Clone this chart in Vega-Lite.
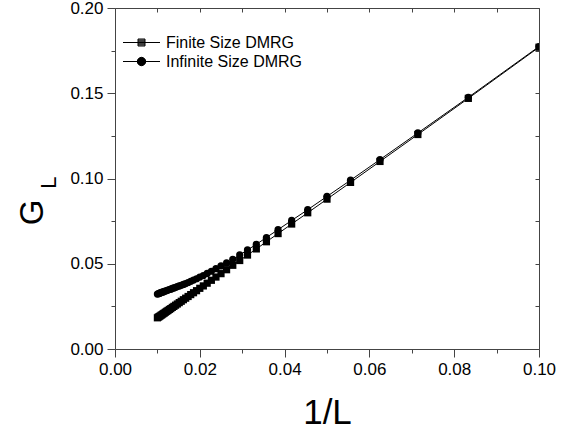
{
"$schema":"https://vega.github.io/schema/vega-lite/v6.json",
"width":424,"height":341,
"autosize":{"type":"none"},
"padding":{"left":115,"top":8,"right":36,"bottom":84},
"background":"white",
"config":{"view":{"stroke":null},"font":"Liberation Sans"},
"data":{"values":[
{"L":10,"invL":0.1,"series":"Finite Size DMRG","G":0.1770},
{"L":12,"invL":0.083333,"series":"Finite Size DMRG","G":0.1470},
{"L":14,"invL":0.071429,"series":"Finite Size DMRG","G":0.1258},
{"L":16,"invL":0.0625,"series":"Finite Size DMRG","G":0.1100},
{"L":18,"invL":0.055556,"series":"Finite Size DMRG","G":0.0977},
{"L":20,"invL":0.05,"series":"Finite Size DMRG","G":0.0879},
{"L":22,"invL":0.045455,"series":"Finite Size DMRG","G":0.0799},
{"L":24,"invL":0.041667,"series":"Finite Size DMRG","G":0.0733},
{"L":26,"invL":0.038462,"series":"Finite Size DMRG","G":0.0677},
{"L":28,"invL":0.035714,"series":"Finite Size DMRG","G":0.0629},
{"L":30,"invL":0.033333,"series":"Finite Size DMRG","G":0.0587},
{"L":32,"invL":0.03125,"series":"Finite Size DMRG","G":0.0551},
{"L":34,"invL":0.029412,"series":"Finite Size DMRG","G":0.0519},
{"L":36,"invL":0.027778,"series":"Finite Size DMRG","G":0.0491},
{"L":38,"invL":0.026316,"series":"Finite Size DMRG","G":0.0465},
{"L":40,"invL":0.025,"series":"Finite Size DMRG","G":0.0442},
{"L":42,"invL":0.02381,"series":"Finite Size DMRG","G":0.0422},
{"L":44,"invL":0.022727,"series":"Finite Size DMRG","G":0.0403},
{"L":46,"invL":0.021739,"series":"Finite Size DMRG","G":0.0386},
{"L":48,"invL":0.020833,"series":"Finite Size DMRG","G":0.0370},
{"L":50,"invL":0.02,"series":"Finite Size DMRG","G":0.0356},
{"L":52,"invL":0.019231,"series":"Finite Size DMRG","G":0.0342},
{"L":54,"invL":0.018519,"series":"Finite Size DMRG","G":0.0330},
{"L":56,"invL":0.017857,"series":"Finite Size DMRG","G":0.0319},
{"L":58,"invL":0.017241,"series":"Finite Size DMRG","G":0.0308},
{"L":60,"invL":0.016667,"series":"Finite Size DMRG","G":0.0298},
{"L":62,"invL":0.016129,"series":"Finite Size DMRG","G":0.0289},
{"L":64,"invL":0.015625,"series":"Finite Size DMRG","G":0.0280},
{"L":66,"invL":0.015152,"series":"Finite Size DMRG","G":0.0272},
{"L":68,"invL":0.014706,"series":"Finite Size DMRG","G":0.0264},
{"L":70,"invL":0.014286,"series":"Finite Size DMRG","G":0.0257},
{"L":72,"invL":0.013889,"series":"Finite Size DMRG","G":0.0250},
{"L":74,"invL":0.013514,"series":"Finite Size DMRG","G":0.0244},
{"L":76,"invL":0.013158,"series":"Finite Size DMRG","G":0.0237},
{"L":78,"invL":0.012821,"series":"Finite Size DMRG","G":0.0232},
{"L":80,"invL":0.0125,"series":"Finite Size DMRG","G":0.0226},
{"L":82,"invL":0.012195,"series":"Finite Size DMRG","G":0.0221},
{"L":84,"invL":0.011905,"series":"Finite Size DMRG","G":0.0216},
{"L":86,"invL":0.011628,"series":"Finite Size DMRG","G":0.0211},
{"L":88,"invL":0.011364,"series":"Finite Size DMRG","G":0.0207},
{"L":90,"invL":0.011111,"series":"Finite Size DMRG","G":0.0202},
{"L":92,"invL":0.01087,"series":"Finite Size DMRG","G":0.0198},
{"L":94,"invL":0.010638,"series":"Finite Size DMRG","G":0.0194},
{"L":96,"invL":0.010417,"series":"Finite Size DMRG","G":0.0190},
{"L":98,"invL":0.010204,"series":"Finite Size DMRG","G":0.0187},
{"L":100,"invL":0.01,"series":"Finite Size DMRG","G":0.0183},
{"L":10,"invL":0.1,"series":"Infinite Size DMRG","G":0.1774},
{"L":12,"invL":0.083333,"series":"Infinite Size DMRG","G":0.1476},
{"L":14,"invL":0.071429,"series":"Infinite Size DMRG","G":0.1267},
{"L":16,"invL":0.0625,"series":"Infinite Size DMRG","G":0.1111},
{"L":18,"invL":0.055556,"series":"Infinite Size DMRG","G":0.0990},
{"L":20,"invL":0.05,"series":"Infinite Size DMRG","G":0.0895},
{"L":22,"invL":0.045455,"series":"Infinite Size DMRG","G":0.0817},
{"L":24,"invL":0.041667,"series":"Infinite Size DMRG","G":0.0754},
{"L":26,"invL":0.038462,"series":"Infinite Size DMRG","G":0.0700},
{"L":28,"invL":0.035714,"series":"Infinite Size DMRG","G":0.0654},
{"L":30,"invL":0.033333,"series":"Infinite Size DMRG","G":0.0614},
{"L":32,"invL":0.03125,"series":"Infinite Size DMRG","G":0.0581},
{"L":34,"invL":0.029412,"series":"Infinite Size DMRG","G":0.0552},
{"L":36,"invL":0.027778,"series":"Infinite Size DMRG","G":0.0526},
{"L":38,"invL":0.026316,"series":"Infinite Size DMRG","G":0.0505},
{"L":40,"invL":0.025,"series":"Infinite Size DMRG","G":0.0487},
{"L":42,"invL":0.02381,"series":"Infinite Size DMRG","G":0.0471},
{"L":44,"invL":0.022727,"series":"Infinite Size DMRG","G":0.0456},
{"L":46,"invL":0.021739,"series":"Infinite Size DMRG","G":0.0443},
{"L":48,"invL":0.020833,"series":"Infinite Size DMRG","G":0.0431},
{"L":50,"invL":0.02,"series":"Infinite Size DMRG","G":0.0422},
{"L":52,"invL":0.019231,"series":"Infinite Size DMRG","G":0.0412},
{"L":54,"invL":0.018519,"series":"Infinite Size DMRG","G":0.0404},
{"L":56,"invL":0.017857,"series":"Infinite Size DMRG","G":0.0397},
{"L":58,"invL":0.017241,"series":"Infinite Size DMRG","G":0.0390},
{"L":60,"invL":0.016667,"series":"Infinite Size DMRG","G":0.0384},
{"L":62,"invL":0.016129,"series":"Infinite Size DMRG","G":0.0379},
{"L":64,"invL":0.015625,"series":"Infinite Size DMRG","G":0.0374},
{"L":66,"invL":0.015152,"series":"Infinite Size DMRG","G":0.0370},
{"L":68,"invL":0.014706,"series":"Infinite Size DMRG","G":0.0366},
{"L":70,"invL":0.014286,"series":"Infinite Size DMRG","G":0.0362},
{"L":72,"invL":0.013889,"series":"Infinite Size DMRG","G":0.0358},
{"L":74,"invL":0.013514,"series":"Infinite Size DMRG","G":0.0355},
{"L":76,"invL":0.013158,"series":"Infinite Size DMRG","G":0.0351},
{"L":78,"invL":0.012821,"series":"Infinite Size DMRG","G":0.0349},
{"L":80,"invL":0.0125,"series":"Infinite Size DMRG","G":0.0346},
{"L":82,"invL":0.012195,"series":"Infinite Size DMRG","G":0.0343},
{"L":84,"invL":0.011905,"series":"Infinite Size DMRG","G":0.0340},
{"L":86,"invL":0.011628,"series":"Infinite Size DMRG","G":0.0338},
{"L":88,"invL":0.011364,"series":"Infinite Size DMRG","G":0.0335},
{"L":90,"invL":0.011111,"series":"Infinite Size DMRG","G":0.0333},
{"L":92,"invL":0.01087,"series":"Infinite Size DMRG","G":0.0331},
{"L":94,"invL":0.010638,"series":"Infinite Size DMRG","G":0.0329},
{"L":96,"invL":0.010417,"series":"Infinite Size DMRG","G":0.0326},
{"L":98,"invL":0.010204,"series":"Infinite Size DMRG","G":0.0324},
{"L":100,"invL":0.01,"series":"Infinite Size DMRG","G":0.0322}
]},
"layer":[
{"mark":{"type":"line","color":"black","strokeWidth":1,"clip":true},
 "encoding":{
  "x":{"field":"invL","type":"quantitative","scale":{"domain":[0,0.1],"nice":false,"zero":false},
   "axis":{"orient":"bottom","values":[0,0.01,0.02,0.03,0.04,0.05,0.06,0.07,0.08,0.09,0.1],
    "labelExpr":"round(datum.value*100)%2==0 ? format(datum.value,'.2f') : ''",
    "tickSize":{"condition":{"test":"round(datum.value*100)%2==0","value":8},"value":4},
    "grid":false,"domainColor":"#444","tickColor":"#444","labelFont":"Liberation Sans","labelFontSize":17,"labelColor":"black","labelPadding":4,"labelFlush":false,"labelOverlap":false,
    "title":"1/L","titleFont":"Liberation Sans","titleFontSize":35,"titleFontWeight":"normal","titleColor":"black","titleX":212,"titleY":74,"titleAlign":"center","titleBaseline":"alphabetic"}},
  "y":{"field":"G","type":"quantitative","scale":{"domain":[0,0.2],"nice":false,"zero":false},
   "axis":{"orient":"left","values":[0,0.025,0.05,0.075,0.1,0.125,0.15,0.175,0.2],
    "labelExpr":"round(datum.value*40)%2==0 ? format(datum.value,'.2f') : ''",
    "tickSize":{"condition":{"test":"round(datum.value*40)%2==0","value":8},"value":4},
    "grid":false,"domainColor":"#444","tickColor":"#444","labelFont":"Liberation Sans","labelFontSize":17,"labelColor":"black","labelPadding":4,"labelFlush":false,"labelOverlap":false,
    "title":"G","titleFont":"Liberation Sans","titleFontSize":33,"titleFontWeight":"normal","titleColor":"black","titleAngle":270,"titleX":-73,"titleY":204,"titleAlign":"center","titleBaseline":"alphabetic"}},
  "detail":{"field":"series"}
 }},
{"mark":{"type":"point","filled":true,"color":"black","opacity":1,"size":52,"clip":true},
 "encoding":{
  "x":{"field":"invL","type":"quantitative","scale":{"domain":[0,0.1],"nice":false,"zero":false},"axis":null},
  "y":{"field":"G","type":"quantitative","scale":{"domain":[0,0.2],"nice":false,"zero":false},
   "axis":{"orient":"left","domain":false,"ticks":false,"labels":false,"grid":false,
    "title":"L","titleFont":"Liberation Sans","titleFontSize":22,"titleFontWeight":"normal","titleColor":"black","titleAngle":270,"titleX":-60,"titleY":174,"titleAlign":"center","titleBaseline":"alphabetic"}},
  "shape":{"field":"series","type":"nominal","scale":{"domain":["Finite Size DMRG","Infinite Size DMRG"],"range":["square","circle"]},"legend":null}
 }},
{"mark":{"type":"point","opacity":0,"filled":false,"stroke":"black","strokeWidth":1},
 "encoding":{
  "x":{"field":"invL","type":"quantitative","scale":{"domain":[0,0.1],"nice":false,"zero":false},
   "axis":{"orient":"top","values":[0,0.01,0.02,0.03,0.04,0.05,0.06,0.07,0.08,0.09,0.1],"labels":false,"tickSize":-4,"grid":false,"domainColor":"#444","tickColor":"#444","title":null}},
  "y":{"field":"G","type":"quantitative","scale":{"domain":[0,0.2],"nice":false,"zero":false},
   "axis":{"orient":"right","values":[0,0.025,0.05,0.075,0.1,0.125,0.15,0.175,0.2],"labels":false,"tickSize":-4,"grid":false,"domainColor":"#444","tickColor":"#444","title":null}},
  "shape":{"field":"series","type":"nominal","scale":{"domain":["Finite Size DMRG","Infinite Size DMRG"],"range":["M-1.85,0H1.85M-0.35,-0.35H0.35V0.35H-0.35ZM-0.35,-0.25H0.35M-0.35,-0.15H0.35M-0.35,-0.05H0.35M-0.35,0.05H0.35M-0.35,0.15H0.35M-0.35,0.25H0.35","M-1.85,0H1.85M0.42,0A0.42,0.42,0,1,1,-0.42,0A0.42,0.42,0,1,1,0.42,0ZM-0.41,-0.1H0.41M-0.37,-0.2H0.37M-0.29,-0.3H0.29M-0.41,0.1H0.41M-0.37,0.2H0.37M-0.29,0.3H0.29M-0.15,-0.38H0.15M-0.15,0.38H0.15"]},
   "legend":{"orient":"none","legendX":16,"legendY":24,"title":null,"padding":0,"symbolSize":400,"symbolStrokeWidth":1,"symbolStrokeColor":"black","symbolFillColor":"black","symbolOpacity":1,
    "labelFont":"Liberation Sans","labelFontSize":16,"labelColor":"black","labelOffset":14,"rowPadding":0,
    "encode":{"symbols":{"update":{"fill":{"value":"black"}}}}}}
 }}
],
"resolve":{"axis":{"x":"independent","y":"independent"},"scale":{"shape":"independent"}}
}
